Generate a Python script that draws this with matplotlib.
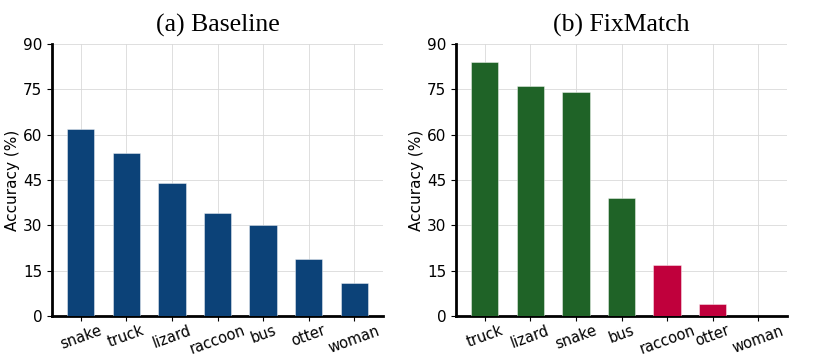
import matplotlib
matplotlib.use("Agg")
import matplotlib.pyplot as plt

base_classes = ["snake", "truck", "lizard", "raccoon", "bus", "otter", "woman"]
base_values = [62, 54, 44, 34, 30, 19, 11]

fix_classes = ["truck", "lizard", "snake", "bus", "raccoon", "otter", "woman"]
fix_values = [84, 76, 74, 39, 17, 4, 0]
fix_colors = ["#1f6327"] * 4 + ["#c0003c"] * 3

yticks = [0, 15, 30, 45, 60, 75, 90]

fig = plt.figure(figsize=(8.3, 3.57), dpi=100)
ax1 = fig.add_axes([52/830, 1-316/357, 331/830, 272/357])
ax2 = fig.add_axes([456/830, 1-316/357, 331/830, 272/357])

def style(ax, classes, values, colors, title):
    x = range(len(classes))
    ax.bar(x, values, width=0.6, color=colors, edgecolor=(1, 1, 1, 0.5), linewidth=0.6, zorder=3)
    ax.set_xticks(list(x))
    ax.set_xticklabels(classes, rotation=20, fontsize=10.5)
    ax.tick_params(axis='x', pad=1.5)
    ax.set_yticks(yticks)
    ax.set_ylim(0, 90)
    ax.tick_params(axis='y', labelsize=11)
    ax.set_ylabel("Accuracy (%)", fontsize=11, labelpad=2)
    ax.grid(True, color="#d9d9d9", linewidth=0.6, zorder=0)
    ax.set_axisbelow(True)
    for s in ["top", "right"]:
        ax.spines[s].set_visible(False)
    for s in ["left", "bottom"]:
        ax.spines[s].set_linewidth(2)
    ax.set_title(title, fontsize=18.5, family="Liberation Serif", pad=9)

style(ax1, base_classes, base_values, "#0c4278", "(a) Baseline")
style(ax2, fix_classes, fix_values, fix_colors, "(b) FixMatch")

fig.savefig("out.png", dpi=100)
